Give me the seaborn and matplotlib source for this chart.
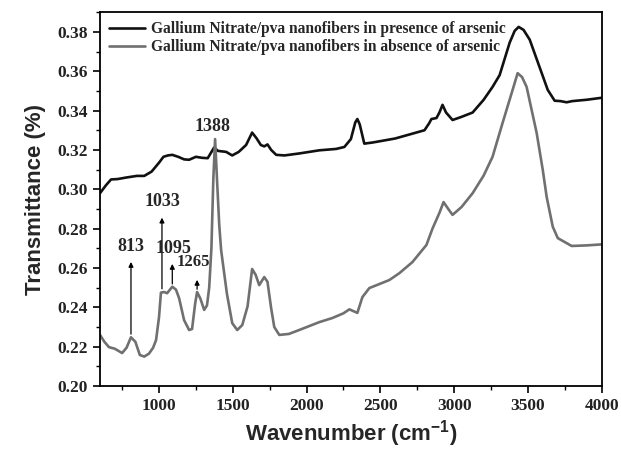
import numpy as np
import pandas as pd
import matplotlib
matplotlib.use("Agg")
import matplotlib.pyplot as plt
from matplotlib.ticker import MultipleLocator
import seaborn as sns

# ---- data ----
wn_presence = [600, 640, 675, 720, 780, 850, 900, 950, 1000, 1030, 1060, 1090, 1130, 1170, 1204,
               1250, 1290, 1330, 1373, 1400, 1455, 1496, 1540, 1590, 1631, 1660, 1690, 1713, 1735,
               1760, 1794, 1850, 1950, 2086, 2200, 2256, 2300, 2330, 2344, 2360, 2391, 2450, 2600,
               2799, 2830, 2846, 2880, 2900, 2921, 2945, 2989, 3050, 3125, 3200, 3260, 3308, 3376,
               3410, 3437, 3470, 3512, 3579, 3634, 3681, 3720, 3762, 3800, 3900, 4000]
t_presence = [0.298, 0.302, 0.305, 0.3052, 0.306, 0.3068, 0.3068, 0.309, 0.3135, 0.3165, 0.3172,
              0.3175, 0.3165, 0.3152, 0.315, 0.3165, 0.316, 0.3158, 0.3212, 0.3195, 0.319, 0.3172,
              0.319, 0.3225, 0.3288, 0.326, 0.3225, 0.3218, 0.3228, 0.320, 0.3175, 0.3172, 0.3182,
              0.3198, 0.3205, 0.3215, 0.3255, 0.334, 0.3357, 0.333, 0.3232, 0.3238, 0.3258, 0.3300,
              0.3335, 0.3357, 0.3362, 0.339, 0.3429, 0.339, 0.3352, 0.3368, 0.339, 0.3455, 0.352,
              0.358, 0.3745, 0.3805, 0.3825, 0.381, 0.376, 0.362, 0.3505, 0.345, 0.3448, 0.3442,
              0.3448, 0.3455, 0.3465]

wn_absence = [600, 630, 661, 700, 750, 780, 810, 840, 870, 900, 932, 960, 980, 1000, 1013, 1035,
              1055, 1090, 1115, 1136, 1170, 1204, 1224, 1245, 1258, 1280, 1306, 1325, 1340, 1355,
              1368, 1380, 1393, 1408, 1421, 1460, 1496, 1530, 1564, 1600, 1631, 1655, 1679, 1713,
              1735, 1760, 1781, 1815, 1880, 1950, 2086, 2175, 2250, 2290, 2344, 2378, 2425, 2561,
              2629, 2717, 2812, 2853, 2900, 2928, 2960, 2989, 3050, 3125, 3200, 3260, 3328, 3396,
              3430, 3460, 3491, 3559, 3600, 3627, 3668, 3702, 3749, 3796, 3900, 4000]
t_absence = [0.226, 0.2225, 0.2198, 0.219, 0.2168, 0.2195, 0.2248, 0.2225, 0.2158, 0.215, 0.2165,
             0.2195, 0.2234, 0.235, 0.2475, 0.2478, 0.2472, 0.2505, 0.249, 0.2447, 0.2335, 0.2285,
             0.229, 0.242, 0.2478, 0.2445, 0.2387, 0.241, 0.250, 0.270, 0.305, 0.3255, 0.305, 0.282,
             0.269, 0.247, 0.232, 0.2285, 0.231, 0.2405, 0.2595, 0.2565, 0.2513, 0.2554, 0.253,
             0.2395, 0.230, 0.226, 0.2265, 0.2285, 0.2325, 0.2346, 0.237, 0.239, 0.2372, 0.2452,
             0.2498, 0.2539, 0.2574, 0.263, 0.2717, 0.280, 0.288, 0.2935, 0.290, 0.287, 0.291,
             0.298, 0.307, 0.3165, 0.3337, 0.3505, 0.359, 0.357, 0.352, 0.3286, 0.310, 0.296, 0.281,
             0.2752, 0.2732, 0.2712, 0.2715, 0.272]

label_presence = "Gallium Nitrate/pva nanofibers in presence of arsenic"
label_absence = "Gallium Nitrate/pva nanofibers in absence of arsenic"

peak_labels = ["813", "1033", "1095", "1265"]
peak_wn = [810, 1020, 1090, 1258]
peak_base = [0.225, 0.248, 0.2505, 0.2478]
peak_tip = [0.2645, 0.287, 0.2635, 0.2554]

# ---- plot ----
sns.set_style("ticks")
plt.rcParams["mathtext.default"] = "regular"
fig = plt.figure(figsize=(6.21, 4.5), dpi=100)
ax = fig.add_axes([0.161, 0.142, 0.808, 0.831])

df_p = pd.DataFrame({"wn": wn_presence, "t": t_presence})
df_a = pd.DataFrame({"wn": wn_absence, "t": t_absence})
sns.lineplot(data=df_p, x="wn", y="t", ax=ax, color="#111111", lw=1.9, label=label_presence)
sns.lineplot(data=df_a, x="wn", y="t", ax=ax, color="#707070", lw=1.9, label=label_absence)

ax.set_xlim(600, 4000)
ax.set_ylim(0.20, 0.39)
ax.xaxis.set_minor_locator(MultipleLocator(250))
ax.yaxis.set_minor_locator(MultipleLocator(0.01))
yt = np.arange(0.20, 0.381, 0.02)
ax.set_yticks(yt)
ax.set_yticklabels([f"{v:.2f}" for v in yt])
ax.set_xticks([1000, 1500, 2000, 2500, 3000, 3500, 4000])

for sp in ax.spines.values():
    sp.set_linewidth(1.3)
    sp.set_color("black")
ax.tick_params(which="major", direction="out", length=5, width=1.2, colors="black")
ax.tick_params(which="minor", direction="out", length=3, width=1.0, colors="black")
for lab in ax.get_xticklabels() + ax.get_yticklabels():
    lab.set_fontfamily("Liberation Serif")
    lab.set_fontweight("bold")
    lab.set_fontsize(12.5)
    lab.set_color("#222222")

ax.set_xlabel("Wavenumber (cm$^{-1}$)", fontfamily="Liberation Sans",
              fontweight="bold", fontsize=16, labelpad=3)
ax.set_ylabel("Transmittance (%)", fontfamily="Liberation Sans", fontweight="bold",
              fontsize=16, labelpad=8)

leg = ax.legend(loc="upper left", frameon=False, handlelength=2.3, handletextpad=0.4,
                borderaxespad=0.2, labelspacing=0.12,
                prop={"family": "Liberation Serif", "weight": "bold", "size": 11.2})

for lab, x, b, t in zip(peak_labels, peak_wn, peak_base, peak_tip):
    ax.annotate("", xy=(x, t), xytext=(x, b),
                arrowprops=dict(arrowstyle="-|>", lw=0.9, color="black", mutation_scale=7))

ax.text(810, 0.2665, "813", ha="center", va="bottom", fontfamily="Liberation Serif",
        fontweight="bold", fontsize=13)
ax.text(1020, 0.2895, "1033", ha="center", va="bottom", fontfamily="Liberation Serif",
        fontweight="bold", fontsize=13)
ax.text(1100, 0.2655, "1095", ha="center", va="bottom", fontfamily="Liberation Serif",
        fontweight="bold", fontsize=13)
ax.text(1120, 0.2590, "1265", ha="left", va="bottom", fontfamily="Liberation Serif",
        fontweight="bold", fontsize=12)
ax.text(1360, 0.3275, "1388", ha="center", va="bottom", fontfamily="Liberation Serif",
        fontweight="bold", fontsize=13)

fig.savefig("out.png", dpi=100)
